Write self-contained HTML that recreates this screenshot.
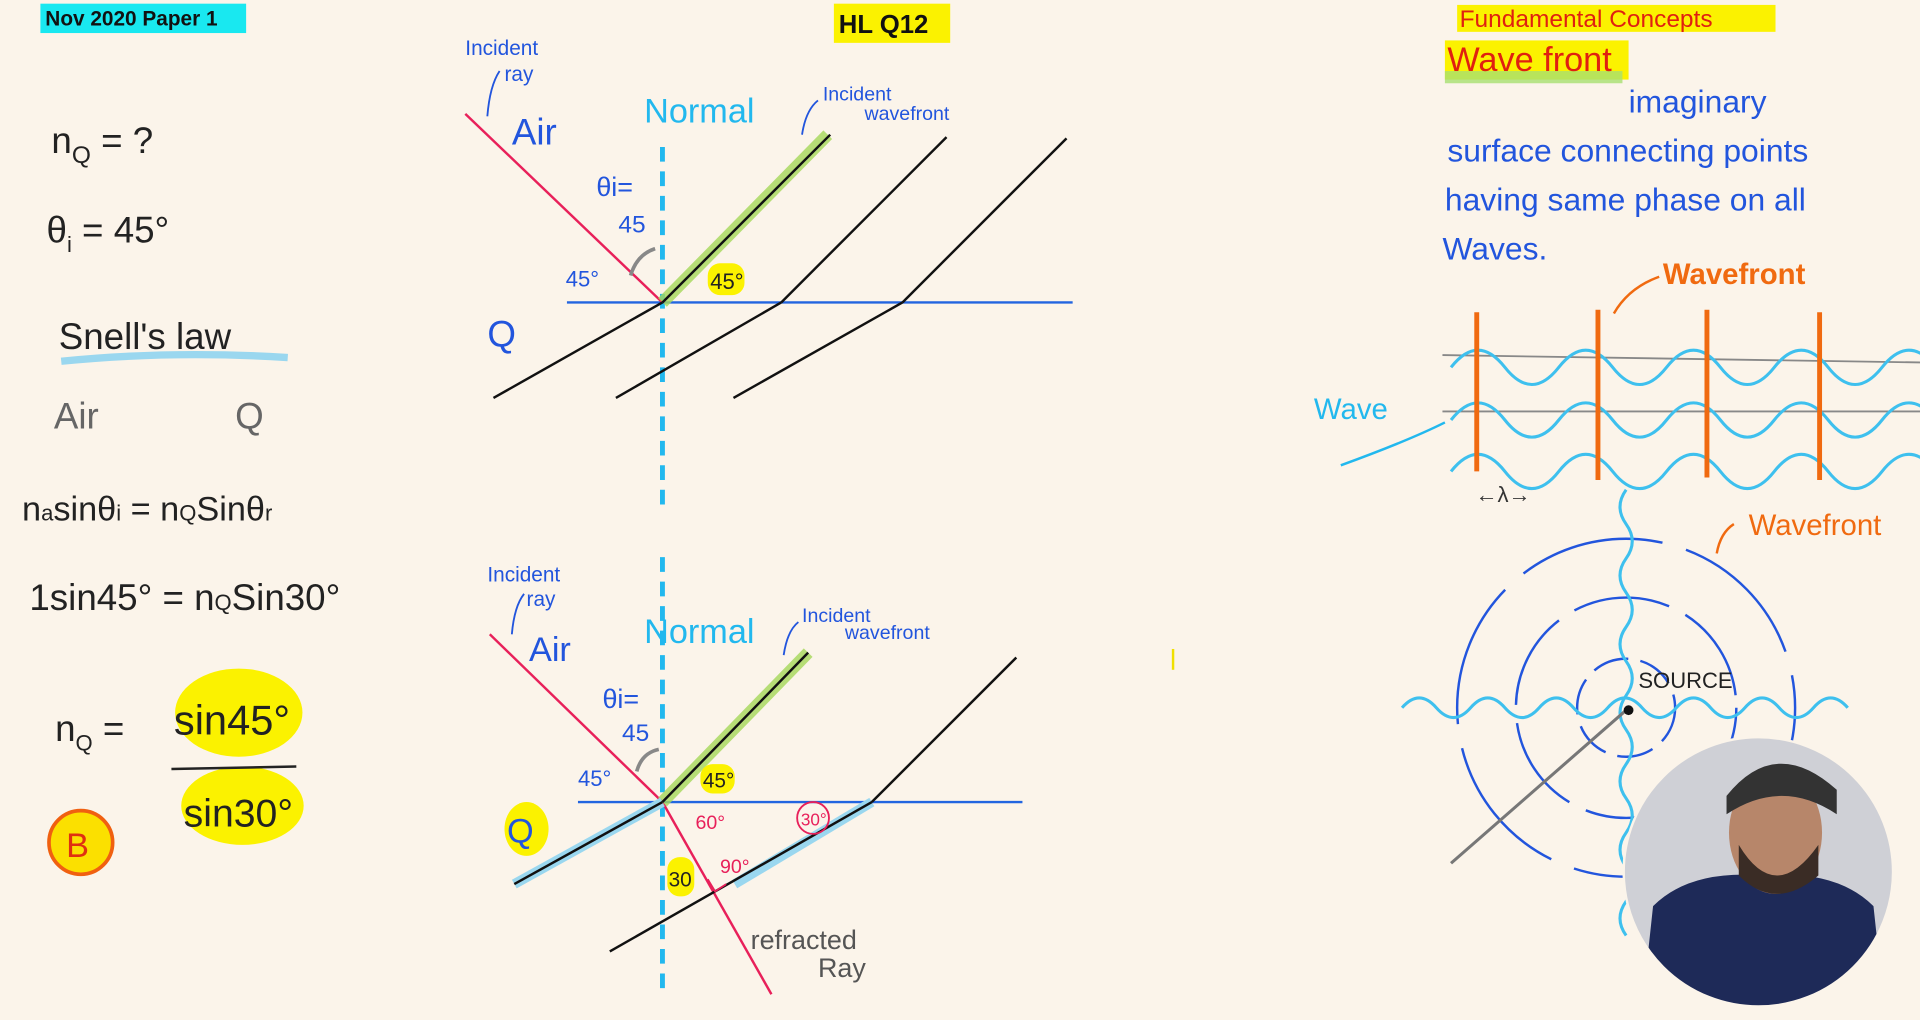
<!DOCTYPE html>
<html><head><meta charset="utf-8"><style>
html,body{margin:0;padding:0;background:#fbf4ea;}
svg{display:block;}
text{font-family:"Liberation Sans",sans-serif;}
</style></head><body>
<svg width="1920" height="1020" viewBox="0 0 1568 833" xmlns="http://www.w3.org/2000/svg">
<defs><clipPath id="cam"><circle cx="1436" cy="712" r="110"/></clipPath></defs>
<rect width="1568" height="833" fill="#fbf4ea"/>
<rect x="33" y="3" width="168" height="24" fill="#19e8f0"/>
<text x="37" y="21" font-size="17" font-weight="bold" fill="#111">Nov 2020 Paper 1</text>
<rect x="681" y="3" width="95" height="32" fill="#fbf200"/>
<text x="685" y="27" font-size="21" font-weight="bold" fill="#111">HL Q12</text>

<g fill="#222" font-size="30">
<text x="42" y="125">n<tspan font-size="20" dy="8">Q</tspan><tspan dy="-8"> = ?</tspan></text>
<text x="38" y="198">θ<tspan font-size="18" dy="8">i</tspan><tspan dy="-8"> = 45°</tspan></text>
<path d="M50 295 Q140 286 235 292" stroke="#9ad7ef" stroke-width="6" fill="none"/>
<text x="48" y="285">Snell's law</text>
<text x="44" y="350" fill="#666">Air</text><text x="192" y="350" fill="#666">Q</text>
<text x="18" y="425" font-size="28">n<tspan font-size="18">a</tspan>sinθ<tspan font-size="18">i</tspan> = n<tspan font-size="18">Q</tspan>Sinθ<tspan font-size="18">r</tspan></text>
<text x="24" y="498" font-size="30">1sin45° = n<tspan font-size="18">Q</tspan>Sin30°</text>
</g>
<ellipse cx="195" cy="582" rx="52" ry="36" fill="#fbf200"/>
<ellipse cx="198" cy="658" rx="50" ry="32" fill="#fbf200"/>
<text x="45" y="605" font-size="30" fill="#222">n<tspan font-size="18" dy="8">Q</tspan><tspan dy="-8"> =</tspan></text>
<text x="142" y="600" font-size="34" fill="#222">sin45°</text>
<line x1="140" y1="628" x2="242" y2="626" stroke="#222" stroke-width="2"/>
<text x="150" y="675" font-size="32" fill="#222">sin30°</text>
<circle cx="66" cy="688" r="26" fill="#fbe000" stroke="#f06010" stroke-width="3"/>
<text x="54" y="700" font-size="28" fill="#e03010">B</text>

<!-- top diagram -->
<line x1="541" y1="120" x2="541" y2="420" stroke="#22b8ee" stroke-width="4" stroke-dasharray="12,8"/>
<line x1="463" y1="247" x2="876" y2="247" stroke="#2265e0" stroke-width="2"/>
<line x1="380" y1="93" x2="541" y2="247" stroke="#e8205a" stroke-width="2"/>
<line x1="541" y1="247" x2="676" y2="110" stroke="#a5d85a" stroke-width="10" opacity="0.8"/>
<g stroke="#111" stroke-width="2">
<line x1="541" y1="247" x2="678" y2="110"/><line x1="638" y1="247" x2="773" y2="112"/><line x1="737" y1="247" x2="871" y2="113"/>
<line x1="403" y1="325" x2="541" y2="247"/><line x1="503" y1="325" x2="638" y2="247"/><line x1="599" y1="325" x2="737" y2="247"/>
</g>
<path d="M398 95 Q400 70 408 58" stroke="#2255dd" stroke-width="1.5" fill="none"/>
<path d="M655 110 Q658 90 668 82" stroke="#2255dd" stroke-width="1.5" fill="none"/>
<path d="M515 225 Q520 208 535 203" stroke="#888" stroke-width="3" fill="none"/>
<g fill="#2255dd" font-size="18">
<text x="380" y="45" font-size="17">Incident</text><text x="412" y="66" font-size="17">ray</text>
<text x="418" y="118" font-size="30">Air</text>
<text x="526" y="100" font-size="28" fill="#22b8ee">Normal</text>
<text x="672" y="82" font-size="16">Incident</text><text x="706" y="98" font-size="16">wavefront</text>
<text x="487" y="160" font-size="22">θi=</text><text x="505" y="190" font-size="20">45</text>
<text x="462" y="234" font-size="18">45°</text>
<text x="398" y="283" font-size="30">Q</text>
</g>
<rect x="578" y="215" width="30" height="26" rx="10" fill="#fbf200"/>
<text x="580" y="236" font-size="18" fill="#222">45°</text>

<!-- bottom diagram -->
<line x1="541" y1="455" x2="541" y2="810" stroke="#22b8ee" stroke-width="4" stroke-dasharray="12,8"/>
<line x1="472" y1="655" x2="835" y2="655" stroke="#2265e0" stroke-width="2"/>
<line x1="400" y1="518" x2="541" y2="655" stroke="#e8205a" stroke-width="2"/>
<line x1="541" y1="655" x2="630" y2="812" stroke="#e8205a" stroke-width="2"/>
<line x1="541" y1="655" x2="660" y2="533" stroke="#a5d85a" stroke-width="10" opacity="0.8"/>
<line x1="420" y1="722" x2="541" y2="655" stroke="#9ad7ef" stroke-width="8"/>
<line x1="600" y1="722" x2="712" y2="655" stroke="#9ad7ef" stroke-width="8"/>
<g stroke="#111" stroke-width="2">
<line x1="541" y1="655" x2="660" y2="533"/><line x1="712" y1="655" x2="830" y2="537"/>
<line x1="420" y1="722" x2="541" y2="655"/><line x1="498" y1="777" x2="712" y2="655"/>
</g>
<path d="M418 518 Q420 495 428 485" stroke="#2255dd" stroke-width="1.5" fill="none"/>
<path d="M640 535 Q643 515 652 508" stroke="#2255dd" stroke-width="1.5" fill="none"/>
<path d="M520 630 Q524 615 538 612" stroke="#888" stroke-width="3" fill="none"/>
<path d="M578 718 L584 728 L593 722" stroke="#e8205a" stroke-width="1.5" fill="none"/>
<g fill="#2255dd">
<text x="398" y="475" font-size="17">Incident</text><text x="430" y="495" font-size="17">ray</text>
<text x="432" y="540" font-size="28">Air</text>
<text x="526" y="525" font-size="28" fill="#22b8ee">Normal</text>
<text x="655" y="508" font-size="16">Incident</text><text x="690" y="522" font-size="16">wavefront</text>
<text x="492" y="578" font-size="22">θi=</text><text x="508" y="605" font-size="20">45</text>
<text x="472" y="642" font-size="18">45°</text>
</g>
<ellipse cx="430" cy="677" rx="18" ry="22" fill="#fbf200"/>
<text x="414" y="688" font-size="28" fill="#2255dd">Q</text>
<rect x="572" y="624" width="28" height="24" rx="10" fill="#fbf200"/>
<text x="574" y="643" font-size="17" fill="#222">45°</text>
<rect x="545" y="700" width="22" height="32" rx="10" fill="#fbf200"/>
<text x="546" y="724" font-size="17" fill="#222">30</text>
<text x="568" y="677" font-size="16" fill="#e8205a">60°</text>
<circle cx="664" cy="668" r="13" fill="none" stroke="#e8205a" stroke-width="1.5"/>
<text x="654" y="674" font-size="14" fill="#e8205a">30°</text>
<text x="588" y="713" font-size="16" fill="#e8205a">90°</text>
<text x="613" y="775" font-size="22" fill="#555">refracted</text>
<text x="668" y="798" font-size="22" fill="#555">Ray</text>
<line x1="958" y1="530" x2="958" y2="547" stroke="#f0e000" stroke-width="2"/>

<!-- right column -->
<rect x="1190" y="4" width="260" height="22" fill="#fbf200"/>
<text x="1192" y="22" font-size="20" fill="#e02010">Fundamental Concepts</text>
<rect x="1180" y="33" width="150" height="32" fill="#fbf200"/>
<rect x="1180" y="58" width="145" height="10" fill="#a8e070" opacity="0.8"/>
<text x="1182" y="58" font-size="28" fill="#e02010">Wave front</text>
<g fill="#2255dd" font-size="26">
<text x="1330" y="92">imaginary</text>
<text x="1182" y="132">surface connecting points</text>
<text x="1180" y="172">having same phase on all</text>
<text x="1178" y="212">Waves.</text>
</g>
<text x="1358" y="232" font-size="24" fill="#f06a10" font-weight="bold">Wavefront</text>
<path d="M1318 256 Q1330 235 1355 226" stroke="#f06a10" stroke-width="2" fill="none"/>
<text x="1073" y="342" font-size="24" fill="#22b8ee">Wave</text>
<path d="M1095 380 Q1150 360 1180 345" stroke="#22b8ee" stroke-width="2" fill="none"/>
<g stroke="#888" stroke-width="1.5">
<line x1="1178" y1="290" x2="1568" y2="296"/><line x1="1178" y1="336" x2="1568" y2="336"/>
</g>
<g stroke="#3ec0ee" stroke-width="2.5" fill="none">
<path d="M1185 300 q22 -28 44 0 t44 0 t44 0 t44 0 t44 0 t44 0 t44 0 t44 0 t44 0"/>
<path d="M1185 343 q22 -28 44 0 t44 0 t44 0 t44 0 t44 0 t44 0 t44 0 t44 0 t44 0"/>
<path d="M1185 385 q22 -28 44 0 t44 0 t44 0 t44 0 t44 0 t44 0 t44 0 t44 0 t44 0"/>
</g>
<g stroke="#f06a10" stroke-width="4">
<line x1="1206" y1="255" x2="1206" y2="385"/><line x1="1305" y1="253" x2="1305" y2="392"/>
<line x1="1394" y1="253" x2="1394" y2="390"/><line x1="1486" y1="255" x2="1486" y2="392"/>
</g>
<text x="1205" y="410" font-size="18" fill="#333">←λ→</text>
<text x="1428" y="437" font-size="24" fill="#f06a10">Wavefront</text>
<path d="M1402 452 Q1405 435 1416 428" stroke="#f06a10" stroke-width="2" fill="none"/>
<g stroke="#2255dd" stroke-width="2" fill="none">
<circle cx="1328" cy="578" r="40" stroke-dasharray="30,10"/>
<circle cx="1328" cy="578" r="90" stroke-dasharray="80,15"/>
<circle cx="1328" cy="578" r="138" stroke-dasharray="120,20"/>
</g>
<path d="M1145 578 q14 -16 28 0 t28 0 t28 0 t28 0 t28 0 t28 0 t28 0 t28 0 t28 0 t28 0 t28 0 t28 0 t28 0" stroke="#3ec0ee" stroke-width="2.5" fill="none"/>
<path d="M1328 400 q-10 14 0 28 t0 28 t0 28 t0 28 t0 28 t0 28 t0 28 t0 28 t0 28 t0 28 t0 28 t0 28 t0 28" stroke="#3ec0ee" stroke-width="2.5" fill="none"/>
<line x1="1328" y1="580" x2="1185" y2="705" stroke="#777" stroke-width="2.5"/>
<circle cx="1330" cy="580" r="4" fill="#111"/>
<text x="1338" y="562" font-size="18" fill="#222">SOURCE</text>
<!-- webcam -->
<g clip-path="url(#cam)">
<rect x="1326" y="602" width="220" height="220" fill="#cfd0d6"/>
<path d="M1340 833 L1350 740 Q1380 710 1440 715 Q1500 710 1530 740 L1540 833Z" fill="#1e2a58"/>
<ellipse cx="1450" cy="680" rx="38" ry="50" fill="#b7866a"/>
<path d="M1410 650 Q1450 600 1500 645 L1500 665 Q1455 635 1410 665Z" fill="#333"/>
<path d="M1420 690 Q1450 740 1485 690 L1485 715 Q1450 745 1420 715Z" fill="#3a2c25"/>
</g>
<circle cx="1436" cy="712" r="110" fill="none" stroke="#fbf4ea" stroke-width="2"/>
</svg>
</body></html>
